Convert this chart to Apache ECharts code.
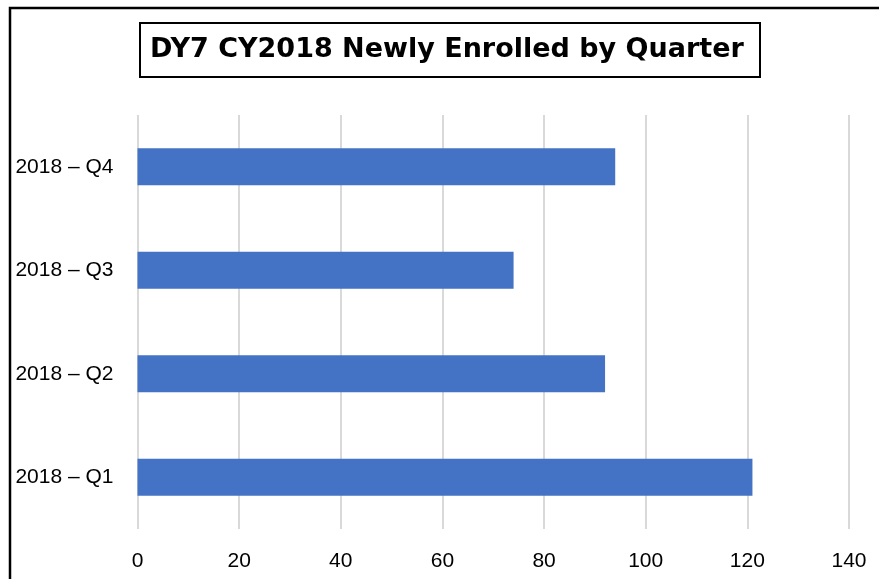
<!DOCTYPE html>
<html>
<head>
<meta charset="utf-8">
<script src="https://cdn.jsdelivr.net/npm/echarts@6/dist/echarts.min.js"></script>
<style>
  html, body { margin: 0; padding: 0; background: #fff; }
  #chart { width: 879px; height: 579px; }
</style>
</head>
<body>
<div id="chart"></div>
<script>
// 데이터
const quarters = ['2018 – Q1', '2018 – Q2', '2018 – Q3', '2018 – Q4'];
const enrolled = [121, 92, 74, 94];
const titleText = 'DY7 CY2018 Newly Enrolled by Quarter';

const chart = echarts.init(document.getElementById('chart'));

const font = '"Liberation Sans", Arial, sans-serif';

let option = {
    backgroundColor: '#fff',
    animation: false,
    title: {
        text: titleText,
        left: 140,
        top: 23,
        padding: [13, 16, 14, 10],
        borderColor: '#000',
        borderWidth: 2,
        textStyle: {
            fontFamily: '"DejaVu Sans", sans-serif',
            fontWeight: 'bold',
            fontSize: 27,
            color: '#000'
        }
    },
    graphic: [
        {
            // 바깥 테두리 (오른쪽/아래는 잘려 있음)
            type: 'rect',
            shape: { x: 10, y: 8, width: 900, height: 600 },
            style: { fill: 'none', stroke: '#000', lineWidth: 2.5 },
            silent: true
        }
    ],
    grid: {
        left: 137.5,
        right: 30,
        top: 115,
        bottom: 50
    },
    xAxis: {
        type: 'value',
        min: 0,
        max: 140,
        interval: 20,
        axisLine: { show: false },
        axisTick: { show: false },
        axisLabel: {
            margin: 22,
            fontFamily: font,
            fontSize: 21,
            color: '#000'
        },
        splitLine: {
            lineStyle: { color: '#d9d9d9', width: 2 }
        }
    },
    yAxis: {
        type: 'category',
        data: quarters,
        axisLine: { show: false },
        axisTick: { show: false },
        axisLabel: {
            margin: 24,
            fontFamily: font,
            fontSize: 21,
            color: '#000'
        }
    },
    series: [
        {
            type: 'bar',
            data: enrolled,
            barWidth: 37,
            itemStyle: { color: '#4472C4' }
        }
    ]
};

chart.setOption(option);
</script>
</body>
</html>
